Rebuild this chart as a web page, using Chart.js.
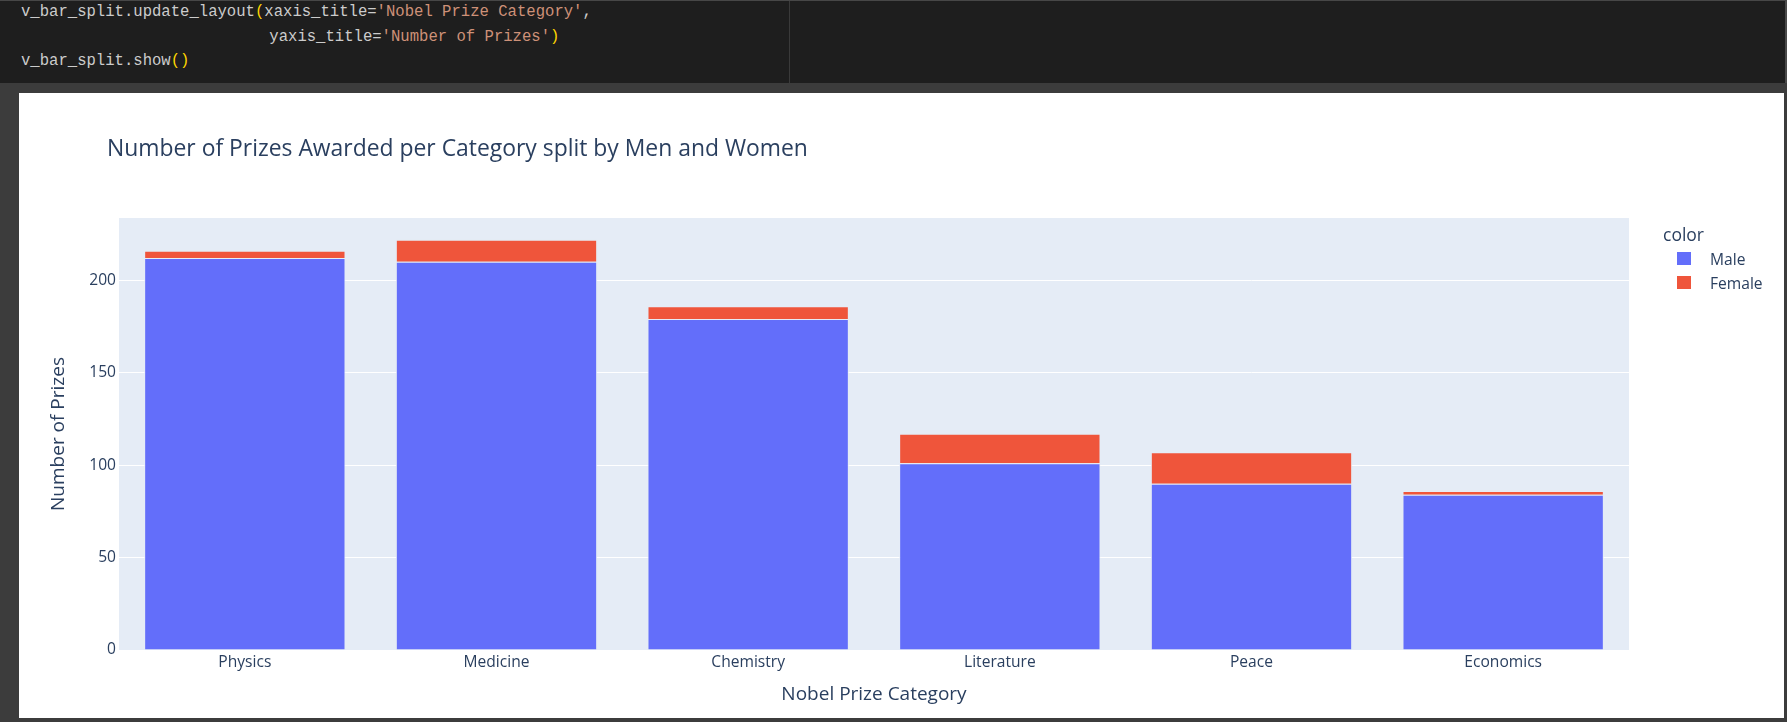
<!DOCTYPE html>
<html>
<head>
<meta charset="utf-8">
<script src="https://cdn.jsdelivr.net/npm/chart.js@4/dist/chart.umd.min.js"></script>
<style>
  html, body { margin:0; padding:0; }
  body { width:1787px; height:722px; overflow:hidden; background:#3c3c3c; position:relative; }
  #code { position:absolute; left:0; top:0; width:1785px; height:82px; background:#1e1e1e; border-top:1px solid #474747; border-right:2px solid #4a4a4a; }
  #divider { position:absolute; left:789px; top:1px; width:1px; height:82px; background:#3a3a3a; }
  #code pre { margin:0; position:absolute; left:21px; top:-1px; font-family:"Liberation Mono","DejaVu Sans Mono",monospace; font-size:15.6px; line-height:24.5px; color:#cccccc; }
  .s { color:#ce9178; } .p { color:#ffd700; }
  #out { position:absolute; left:19px; top:93px; width:1765px; height:625px; background:#ffffff; }
  #title { position:absolute; left:88px; top:40px; font-family:"Open Sans",sans-serif; font-size:22.9px; color:#2a3f5f; white-space:nowrap; line-height:30px; }
  #legend { position:absolute; left:1644px; top:129px; font-family:"Open Sans",sans-serif; color:#2a3f5f; }
  #legend .lt { font-size:17.5px; line-height:25px; }
  #legend .it { position:relative; height:24px; font-size:15.6px; line-height:24px; }
  #legend .sw { position:absolute; left:14px; top:5px; width:14px; height:13px; }
  #legend .tx { position:absolute; left:47px; top:0; white-space:nowrap; }
  #chart { position:absolute; left:0; top:0; }
</style>
</head>
<body>
<div id="code"><pre>v_bar_split.update_layout<span class="p">(</span>xaxis_title=<span class="s">'Nobel Prize Category'</span>,
<span style="padding-left:5px"></span>                          yaxis_title=<span class="s">'Number of Prizes'</span><span class="p">)</span>
v_bar_split.show<span class="p">()</span></pre></div>
<div id="divider"></div>
<div id="out">
  <canvas id="chart" width="1765" height="625"></canvas>
  <div id="title">Number of Prizes Awarded per Category split by Men and Women</div>
  <div id="legend"></div>
</div>
<script>
const categories = ['Physics', 'Medicine', 'Chemistry', 'Literature', 'Peace', 'Economics'];
const maleCounts = [212, 210, 179, 101, 90, 84];
const femaleCounts = [4, 12, 7, 16, 17, 2];
const yTicks = [0, 50, 100, 150, 200];
const seriesNames = ['Male', 'Female'];
const seriesColors = ['#636efa', '#EF553B'];
const legendTitle = 'color';
const xTitle = 'Nobel Prize Category';
const yTitle = 'Number of Prizes';
const yMax = 233.7;

const textColor = '#2a3f5f';
const tickFont = { family: '"Open Sans", sans-serif', size: 15.6 };
const titleFont = { family: '"Open Sans", sans-serif', size: 19 };

const plotBg = {
  id: 'plotBg',
  beforeDraw(chart) {
    const { ctx, chartArea: a } = chart;
    ctx.save();
    ctx.fillStyle = '#E5ECF6';
    ctx.fillRect(a.left, a.top, a.right - a.left, a.bottom - a.top);
    ctx.restore();
  }
};

const chart = new Chart(document.getElementById('chart'), {
  type: 'bar',
  data: {
    labels: categories,
    datasets: [
      { label: seriesNames[0], data: maleCounts, backgroundColor: seriesColors[0], borderColor: 'rgba(229,236,246,0.9)', borderWidth: 1 },
      { label: seriesNames[1], data: femaleCounts, backgroundColor: seriesColors[1], borderColor: 'rgba(229,236,246,0.9)', borderWidth: 1 }
    ]
  },
  options: {
    responsive: false,
    animation: false,
    devicePixelRatio: 1,
    categoryPercentage: 0.8,
    barPercentage: 1.0,
    layout: { padding: { top: 125, right: 155, bottom: 0, left: 0 } },
    plugins: { legend: { display: false }, tooltip: { enabled: false }, title: { display: false } },
    scales: {
      x: {
        stacked: true,
        grid: { display: false, drawTicks: false },
        border: { display: false },
        ticks: { color: textColor, font: tickFont, padding: 3, maxRotation: 0 },
        title: { display: true, text: xTitle, color: textColor, font: titleFont, padding: { top: 0, bottom: 12 } },
        afterFit(s) { s.height = 68; }
      },
      y: {
        stacked: true,
        min: 0,
        max: yMax,
        grid: { color: '#ffffff', lineWidth: 1, drawTicks: false },
        border: { display: false },
        ticks: { color: textColor, font: tickFont, padding: 3 },
        afterBuildTicks(s) { s.ticks = yTicks.map(v => ({ value: v })); },
        title: { display: true, text: yTitle, color: textColor, font: titleFont, padding: { top: 28, bottom: 0 } },
        afterFit(s) { s.width = 100; }
      }
    }
  },
  plugins: [plotBg]
});

// legend built from chart datasets
const lg = document.getElementById('legend');
let html = '<div class="lt">' + legendTitle + '</div>';
chart.data.datasets.forEach(ds => {
  html += '<div class="it"><div class="sw" style="background:' + ds.backgroundColor + '"></div><div class="tx">' + ds.label + '</div></div>';
});
lg.innerHTML = html;
</script>
</body>
</html>
